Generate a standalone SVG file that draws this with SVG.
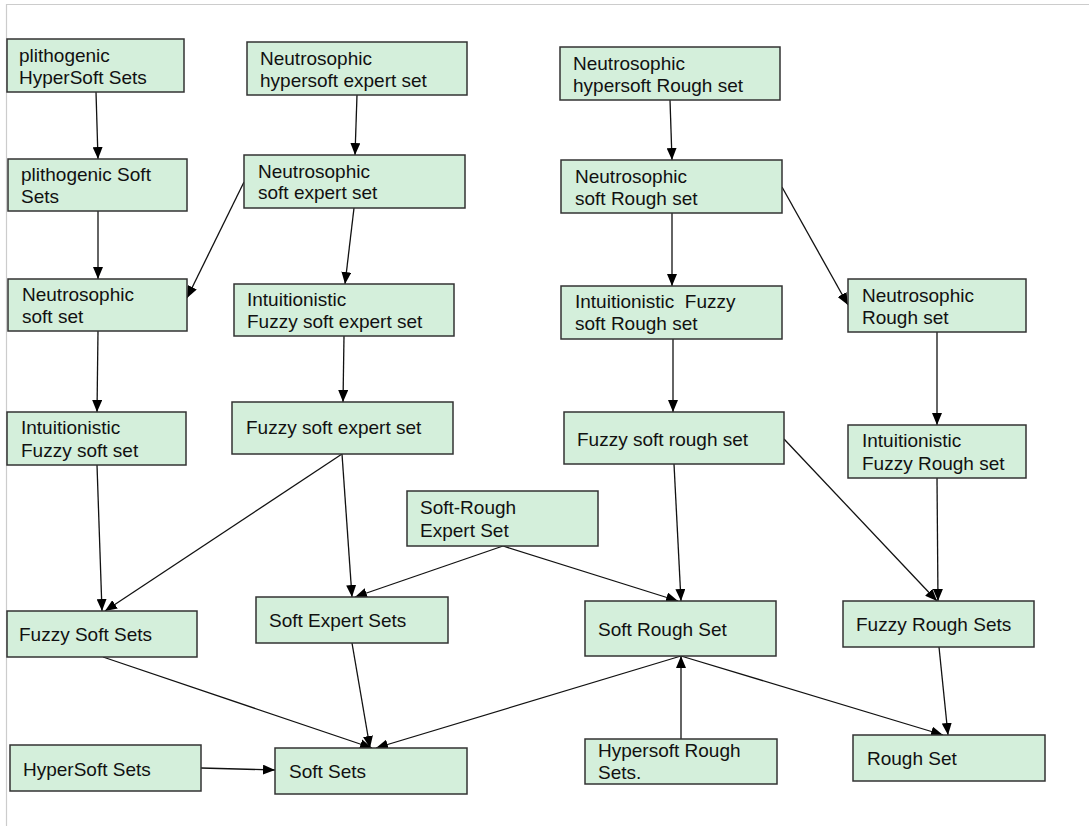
<svg xmlns="http://www.w3.org/2000/svg" width="1089" height="826" viewBox="0 0 1089 826">
<defs>
<marker id="ah" markerUnits="userSpaceOnUse" markerWidth="12" markerHeight="10" viewBox="0 0 12 10" refX="12" refY="5" orient="auto">
<path d="M0,0 L12,5 L0,10 Z" fill="#000"/>
</marker>
<style>
.n rect{fill:#d4efdb;stroke:#333;stroke-width:1.5}
.n text{font-family:"Liberation Sans",Arial,sans-serif;font-size:19px;fill:#111}
.c line{stroke:#111;stroke-width:1.3;marker-end:url(#ah)}
.b{stroke:#ccc;stroke-width:1.2}
</style>
</defs>
<rect width="1089" height="826" fill="#fff"/>
<line class="b" x1="7" y1="4.5" x2="1089" y2="4.5"/>
<line class="b" x1="6.5" y1="4" x2="6.5" y2="826"/>
<g id="connectors" class="c">
<line x1="96" y1="92" x2="98" y2="159"/>
<line x1="98" y1="211" x2="98" y2="279"/>
<line x1="357" y1="95" x2="355" y2="155"/>
<line x1="244" y1="182" x2="187" y2="298"/>
<line x1="354" y1="208" x2="345" y2="284"/>
<line x1="98" y1="331" x2="97" y2="412"/>
<line x1="344" y1="336" x2="343" y2="402"/>
<line x1="670" y1="100" x2="672" y2="160"/>
<line x1="672" y1="213" x2="672" y2="286"/>
<line x1="782" y1="187" x2="848" y2="305"/>
<line x1="673" y1="339" x2="673" y2="412"/>
<line x1="937" y1="332" x2="937" y2="425"/>
<line x1="97" y1="465" x2="102" y2="611"/>
<line x1="342" y1="454" x2="105" y2="611"/>
<line x1="342" y1="454" x2="352" y2="597"/>
<line x1="503" y1="546" x2="355" y2="597"/>
<line x1="674" y1="464" x2="681" y2="601"/>
<line x1="784" y1="439" x2="937" y2="601"/>
<line x1="937" y1="478" x2="938" y2="601"/>
<line x1="503" y1="546" x2="678" y2="601"/>
<line x1="103" y1="657" x2="372" y2="748"/>
<line x1="352" y1="643" x2="370" y2="748"/>
<line x1="681" y1="656" x2="376" y2="748"/>
<line x1="201" y1="768" x2="275" y2="770"/>
<line x1="681" y1="739" x2="681" y2="656"/>
<line x1="681" y1="656" x2="943" y2="735"/>
<line x1="939" y1="647" x2="948" y2="735"/>
</g>
<g id="n1" class="n"><rect x="7" y="39" width="177" height="53"/><text x="19" y="62">plithogenic<tspan x="19" y="84">HyperSoft Sets</tspan></text></g>
<g id="n2" class="n"><rect x="8" y="159" width="179" height="52"/><text x="21" y="181">plithogenic  Soft<tspan x="21" y="203">Sets</tspan></text></g>
<g id="n3" class="n"><rect x="8" y="279" width="179" height="52"/><text x="22" y="301">Neutrosophic<tspan x="22" y="323">soft set</tspan></text></g>
<g id="n4" class="n"><rect x="247" y="42" width="220" height="53"/><text x="260" y="65">Neutrosophic<tspan x="260" y="87">hypersoft expert set</tspan></text></g>
<g id="n5" class="n"><rect x="244" y="155" width="221" height="53"/><text x="258" y="178">Neutrosophic<tspan x="258" y="199">soft expert set</tspan></text></g>
<g id="n6" class="n"><rect x="234" y="284" width="220" height="52"/><text x="247" y="306">Intuitionistic<tspan x="247" y="328">Fuzzy soft expert set</tspan></text></g>
<g id="n7" class="n"><rect x="560" y="47" width="220" height="53"/><text x="573" y="70">Neutrosophic<tspan x="573" y="92">hypersoft Rough set</tspan></text></g>
<g id="n8" class="n"><rect x="561" y="160" width="221" height="53"/><text x="575" y="183">Neutrosophic<tspan x="575" y="205">soft Rough set</tspan></text></g>
<g id="n9" class="n"><rect x="561" y="286" width="221" height="53"/><text x="575" y="308" xml:space="preserve">Intuitionistic  Fuzzy<tspan x="575" y="330">soft Rough set</tspan></text></g>
<g id="n10" class="n"><rect x="848" y="279" width="178" height="53"/><text x="862" y="302">Neutrosophic<tspan x="862" y="324">Rough set</tspan></text></g>
<g id="n11" class="n"><rect x="7" y="412" width="179" height="53"/><text x="21" y="434">Intuitionistic<tspan x="21" y="457">Fuzzy soft set</tspan></text></g>
<g id="n12" class="n"><rect x="232" y="402" width="221" height="52"/><text x="246" y="434">Fuzzy soft expert set</text></g>
<g id="n13" class="n"><rect x="564" y="412" width="220" height="52"/><text x="577" y="446">Fuzzy soft rough set</text></g>
<g id="n14" class="n"><rect x="848" y="425" width="178" height="53"/><text x="862" y="447">Intuitionistic<tspan x="862" y="470">Fuzzy Rough set</tspan></text></g>
<g id="n15" class="n"><rect x="407" y="491" width="191" height="55"/><text x="420" y="514">Soft-Rough<tspan x="420" y="537">Expert Set</tspan></text></g>
<g id="n16" class="n"><rect x="7" y="611" width="190" height="46"/><text x="19" y="641">Fuzzy Soft Sets</text></g>
<g id="n17" class="n"><rect x="256" y="597" width="192" height="46"/><text x="269" y="627">Soft Expert Sets</text></g>
<g id="n18" class="n"><rect x="585" y="601" width="191" height="55"/><text x="598" y="636">Soft Rough Set</text></g>
<g id="n19" class="n"><rect x="843" y="601" width="191" height="46"/><text x="856" y="631">Fuzzy Rough Sets</text></g>
<g id="n20" class="n"><rect x="10" y="745" width="191" height="46"/><text x="23" y="776">HyperSoft Sets</text></g>
<g id="n21" class="n"><rect x="275" y="748" width="192" height="46"/><text x="289" y="778">Soft Sets</text></g>
<g id="n22" class="n"><rect x="585" y="739" width="192" height="45"/><text x="598" y="757">Hypersoft Rough<tspan x="598" y="779">Sets.</tspan></text></g>
<g id="n23" class="n"><rect x="853" y="735" width="192" height="46"/><text x="867" y="765">Rough Set</text></g>
</svg>
